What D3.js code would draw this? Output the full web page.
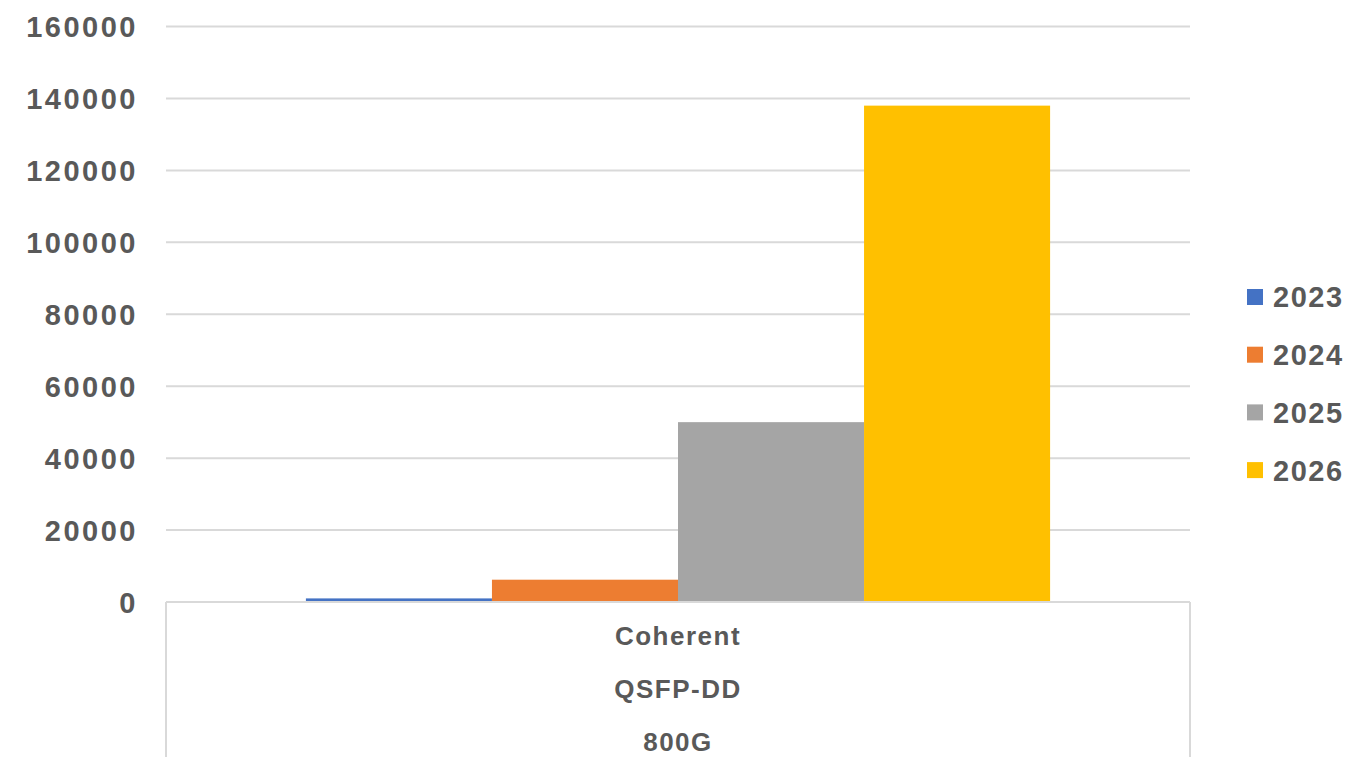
<!DOCTYPE html>
<html>
<head>
<meta charset="utf-8">
<script src="https://cdn.jsdelivr.net/npm/d3@7"></script>
<style>
  html, body { margin: 0; padding: 0; background: #fff; }
  svg { display: block; }
  text { font-family: "Liberation Sans", Arial, sans-serif; font-weight: bold; fill: #595959; }
</style>
</head>
<body>
<svg id="chart" width="1365" height="757"></svg>
<script>
// Shipments by year for the single product category
const categoryLines = ["Coherent", "QSFP-DD", "800G"];
const years = ["2023", "2024", "2025", "2026"];
const values = [1000, 6200, 50000, 138000];
const colors = ["#4472C4", "#ED7D31", "#A5A5A5", "#FFC000"];
const yTicks = [0, 20000, 40000, 60000, 80000, 100000, 120000, 140000, 160000];

const svg = d3.select("#chart");
const plotLeft = 166, plotRight = 1190, plotTop = 26.5, plotBottom = 602;

const y = d3.scaleLinear().domain([0, 160000]).range([plotBottom, plotTop]);
const x0 = d3.scaleBand().domain([categoryLines.join(" ")]).range([plotLeft, plotRight])
  .paddingInner(0).paddingOuter(0.188);
const x1 = d3.scaleBand().domain(years).range([0, x0.bandwidth()]).padding(0);

// horizontal gridlines
svg.append("g").selectAll("line").data(yTicks.filter(d => d > 0)).join("line")
  .attr("x1", plotLeft).attr("x2", plotRight)
  .attr("y1", d => y(d)).attr("y2", d => y(d))
  .attr("stroke", "#D9D9D9").attr("stroke-width", 2);

// y axis labels (plain integers, no separators)
const yAxis = d3.axisLeft(y).tickValues(yTicks).tickFormat(d3.format("d"))
  .tickSize(0).tickPadding(0);
const ya = svg.append("g").attr("transform", "translate(138,0)").call(yAxis);
ya.select(".domain").remove();
ya.attr("font-family", null).attr("font-size", null);
ya.selectAll("text")
  .attr("font-size", 29).attr("letter-spacing", 2.5)
  .attr("fill", "#595959").attr("dy", "0.36em");

// bars
const cat = x0.domain()[0];
svg.append("g").selectAll("rect").data(years).join("rect")
  .attr("x", d => x0(cat) + x1(d))
  .attr("width", x1.bandwidth())
  .attr("y", (d, i) => y(values[i]))
  .attr("height", (d, i) => y(0) - y(values[i]))
  .attr("fill", (d, i) => colors[i]);

// category axis frame
const frame = svg.append("g").attr("stroke", "#D9D9D9").attr("stroke-width", 2).attr("fill", "none");
frame.append("line").attr("x1", plotLeft).attr("x2", plotRight).attr("y1", plotBottom).attr("y2", plotBottom);
frame.append("line").attr("x1", plotLeft).attr("x2", plotLeft).attr("y1", plotBottom).attr("y2", 757);
frame.append("line").attr("x1", plotRight).attr("x2", plotRight).attr("y1", plotBottom).attr("y2", 757);

// multi-line category label
const cx = (plotLeft + plotRight) / 2;
svg.append("g").selectAll("text").data(categoryLines).join("text")
  .attr("x", cx).attr("y", (d, i) => 645 + i * 53)
  .attr("text-anchor", "middle")
  .attr("font-size", 26).attr("letter-spacing", 1.5)
  .text(d => d);

// legend
const lg = svg.append("g").selectAll("g").data(years).join("g")
  .attr("transform", (d, i) => `translate(1247,${297 + i * 57.7})`);
lg.append("rect").attr("x", 0).attr("y", -8).attr("width", 16).attr("height", 16)
  .attr("fill", (d, i) => colors[i]);
lg.append("text").attr("x", 26).attr("y", 0).attr("dy", "0.36em")
  .attr("font-size", 29).attr("letter-spacing", 1.5)
  .text(d => d);
</script>
</body>
</html>
